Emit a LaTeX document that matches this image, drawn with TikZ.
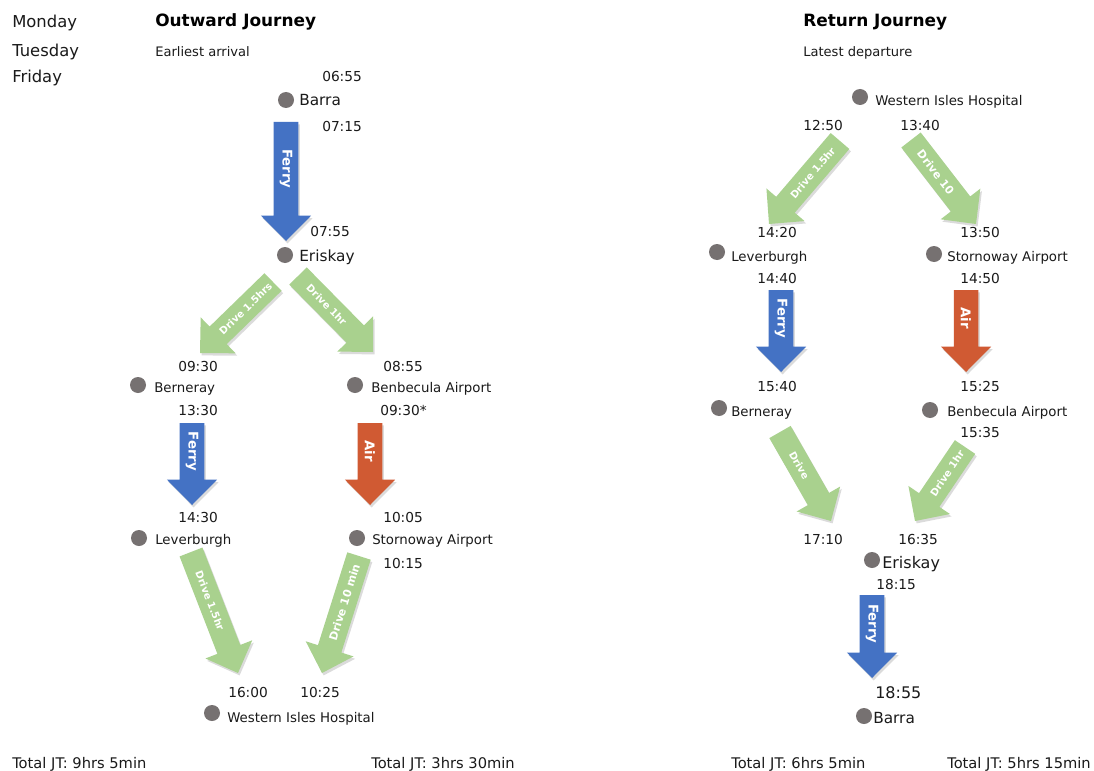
\documentclass[tikz,border=0pt]{standalone}
\usepackage{fontspec}
\setmainfont{DejaVu Sans}
\usetikzlibrary{calc}
\definecolor{ferryblue}{HTML}{4472C4}
\definecolor{drivegreen}{HTML}{A9D18E}
\definecolor{airorange}{HTML}{D05A33}
\definecolor{dotgray}{HTML}{767171}
\definecolor{txt}{HTML}{1A1A1A}
\newcommand\arrSW{9.2pt}
\newcommand\arrHW{18.8pt}
\newcommand\arrHL{19pt}
% #1 name, #2 tail, #3 tip, #4 colour, #5 label style, #6 label
\newcommand\jarrow[6]{%
  \coordinate (#1hb) at ($(#3)!\arrHL!(#2)$);
  \fill[black,opacity=.14,transform canvas={shift={(1.2pt,-1.8pt)}}]
    ($(#2)!\arrSW!90:(#3)$) -- ($(#1hb)!\arrSW!90:(#3)$) -- ($(#1hb)!\arrHW!90:(#3)$) -- (#3)
    -- ($(#1hb)!\arrHW!-90:(#3)$) -- ($(#1hb)!\arrSW!-90:(#3)$) -- ($(#2)!\arrSW!-90:(#3)$) -- cycle;
  \fill[#4]
    ($(#2)!\arrSW!90:(#3)$) -- ($(#1hb)!\arrSW!90:(#3)$) -- ($(#1hb)!\arrHW!90:(#3)$) -- (#3)
    -- ($(#1hb)!\arrHW!-90:(#3)$) -- ($(#1hb)!\arrSW!-90:(#3)$) -- ($(#2)!\arrSW!-90:(#3)$) -- cycle;
  \path (#2) -- (#1hb) node[midway,sloped,#5] (#1lbl) {#6};
}
\tikzset{
  txtbase/.style={anchor=base west, inner sep=0pt, text=txt},
  tm/.style={txtbase, font=\fontsize{10.3}{12}\selectfont},
  bigtm/.style={txtbase, font=\fontsize{12}{14}\selectfont},
  place/.style={txtbase, font=\fontsize{10}{12}\selectfont},
  bigplace/.style={txtbase, font=\fontsize{11.5}{14}\selectfont},
  day/.style={txtbase, font=\fontsize{12.3}{15}\selectfont},
  jtitle/.style={txtbase, text=black, font=\fontsize{12.7}{15}\bfseries\selectfont},
  jsub/.style={txtbase, font=\fontsize{9.8}{11}\selectfont},
  jtotal/.style={txtbase, font=\fontsize{11}{13}\selectfont},
  modelbl/.style={text=white, font=\fontsize{10}{12}\bfseries\selectfont, inner sep=0pt},
  drvlbl/.style={text=white, font=\fontsize{7.5}{9}\bfseries\selectfont, inner sep=0pt},
  stop/.style={circle, fill=dotgray, minimum size=12pt, inner sep=0pt},
}
\begin{document}
\begin{tikzpicture}[x=0.75pt,y=-0.75pt]
\useasboundingbox (0,0) rectangle (1094,770);
\fill[white] (0,0) rectangle (1094,770);

% days
\node[day] (mon) at (12,28) {Monday};
\node[day] (tue) at (12,57) {Tuesday};
\node[day] (fri) at (12,83) {Friday};

% ===== Outward =====
\node[jtitle] (otitle) at (155,27) {Outward Journey};
\node[jsub] (osub) at (155,57) {Earliest arrival};

\node[tm] (t0655) at (322,82) {06:55};
\node[stop] (oBarra) at (286,100) {};
\node[bigplace] (oBarraT) at (299,106) {Barra};
\node[tm] (t0715) at (322,132) {07:15};
\node[tm] (t0755) at (310,236) {07:55};
\node[stop] (oEriskay) at (285,255) {};
\node[bigplace] (oEriskayT) at (299,261) {Eriskay};

\node[tm] (t0930a) at (178,371) {09:30};
\node[tm] (t0855) at (383,371) {08:55};
\node[stop] (oBerneray) at (138,385) {};
\node[place] (oBernerayT) at (154,392) {Berneray};
\node[stop] (oBenbecula) at (355,385) {};
\node[place] (oBenbeculaT) at (371,392) {Benbecula Airport};
\node[tm] (t1330) at (178,415) {13:30};
\node[tm] (t0930b) at (380,415) {09:30*};

\node[tm] (t1430) at (178,522) {14:30};
\node[tm] (t1005) at (383,522) {10:05};
\node[stop] (oLeverburgh) at (139,538) {};
\node[place] (oLeverburghT) at (155,544) {Leverburgh};
\node[stop] (oStornoway) at (357,538) {};
\node[place] (oStornowayT) at (372,544) {Stornoway Airport};
\node[tm] (t1015) at (383,568) {10:15};

\node[tm] (t1600) at (228,697) {16:00};
\node[tm] (t1025) at (300,697) {10:25};
\node[stop] (oHospital) at (212,713) {};
\node[place] (oHospitalT) at (227,722) {Western Isles Hospital};

\coordinate (a1t) at (286,122); \coordinate (a1h) at (286,241);
\coordinate (a2t) at (273,282); \coordinate (a2h) at (200,353);
\coordinate (a3t) at (298,276); \coordinate (a3h) at (373,352);
\coordinate (a4t) at (192,423); \coordinate (a4h) at (192,505);
\coordinate (a5t) at (370,423); \coordinate (a5h) at (370,505);
\coordinate (a6t) at (191,552); \coordinate (a6h) at (238,673);
\coordinate (a7t) at (359,556); \coordinate (a7h) at (322,673);

\jarrow{a1}{a1t}{a1h}{ferryblue}{modelbl}{Ferry}
\jarrow{a2}{a2t}{a2h}{drivegreen}{drvlbl}{Drive 1.5hrs}
\jarrow{a3}{a3t}{a3h}{drivegreen}{drvlbl}{Drive 1hr}
\jarrow{a4}{a4t}{a4h}{ferryblue}{modelbl}{Ferry}
\jarrow{a5}{a5t}{a5h}{airorange}{modelbl}{Air}
\jarrow{a6}{a6t}{a6h}{drivegreen}{drvlbl}{Drive 1.5hr}
\jarrow{a7}{a7t}{a7h}{drivegreen}{drvlbl,font=\fontsize{8.3}{10}\bfseries\selectfont}{Drive 10 min}

% ===== Return =====
\node[jtitle] (rtitle) at (803,27) {Return Journey};
\node[jsub] (rsub) at (803,57) {Latest departure};

\node[stop] (rHospital) at (860,97) {};
\node[place] (rHospitalT) at (875,106) {Western Isles Hospital};
\node[tm] (t1250) at (803,131) {12:50};
\node[tm] (t1340) at (900,131) {13:40};

\node[tm] (t1420) at (757,237) {14:20};
\node[tm] (t1350) at (960,237) {13:50};
\node[stop] (rLeverburgh) at (717,252) {};
\node[place] (rLeverburghT) at (731,261) {Leverburgh};
\node[stop] (rStornoway) at (934,254) {};
\node[place] (rStornowayT) at (947,261) {Stornoway Airport};
\node[tm] (t1440) at (757,283) {14:40};
\node[tm] (t1450) at (960,283) {14:50};

\node[tm] (t1540) at (757,391) {15:40};
\node[tm] (t1525) at (960,391) {15:25};
\node[stop] (rBerneray) at (719,408) {};
\node[place] (rBernerayT) at (731,416) {Berneray};
\node[stop] (rBenbecula) at (930,410) {};
\node[place] (rBenbeculaT) at (947,416) {Benbecula Airport};
\node[tm] (t1535) at (960,437) {15:35};

\node[tm] (t1710) at (803,544) {17:10};
\node[tm] (t1635) at (898,544) {16:35};
\node[stop] (rEriskay) at (872,560) {};
\node[bigtm] (rEriskayT) at (882,568) {Eriskay};
\node[tm] (t1815) at (876,589) {18:15};
\node[bigtm] (t1855) at (875,698) {18:55};
\node[stop] (rBarra) at (864,716) {};
\node[bigplace] (rBarraT) at (873,723) {Barra};

\coordinate (b1t) at (840,141); \coordinate (b1h) at (769,224);
\coordinate (b2t) at (911,140); \coordinate (b2h) at (976,224);
\coordinate (b3t) at (781,290); \coordinate (b3h) at (781,372);
\coordinate (b4t) at (966,290); \coordinate (b4h) at (966,372);
\coordinate (b5t) at (780,432); \coordinate (b5h) at (831,521);
\coordinate (b6t) at (965,447); \coordinate (b6h) at (915,521);
\coordinate (b7t) at (872,595); \coordinate (b7h) at (872,678);

\jarrow{b1}{b1t}{b1h}{drivegreen}{drvlbl}{Drive 1.5hr}
\jarrow{b2}{b2t}{b2h}{drivegreen}{drvlbl,font=\fontsize{8.3}{10}\bfseries\selectfont}{Drive 10}
\jarrow{b3}{b3t}{b3h}{ferryblue}{modelbl}{Ferry}
\jarrow{b4}{b4t}{b4h}{airorange}{modelbl}{Air}
\jarrow{b5}{b5t}{b5h}{drivegreen}{drvlbl}{Drive}
\jarrow{b6}{b6t}{b6h}{drivegreen}{drvlbl}{Drive 1hr}
\jarrow{b7}{b7t}{b7h}{ferryblue}{modelbl}{Ferry}

% totals
\node[jtotal] (tot1) at (12,768) {Total JT: 9hrs 5min};
\node[jtotal] (tot2) at (371,768) {Total JT: 3hrs 30min};
\node[jtotal] (tot3) at (731,768) {Total JT: 6hrs 5min};
\node[jtotal] (tot4) at (947,768) {Total JT: 5hrs 15min};
\end{tikzpicture}
\end{document}
